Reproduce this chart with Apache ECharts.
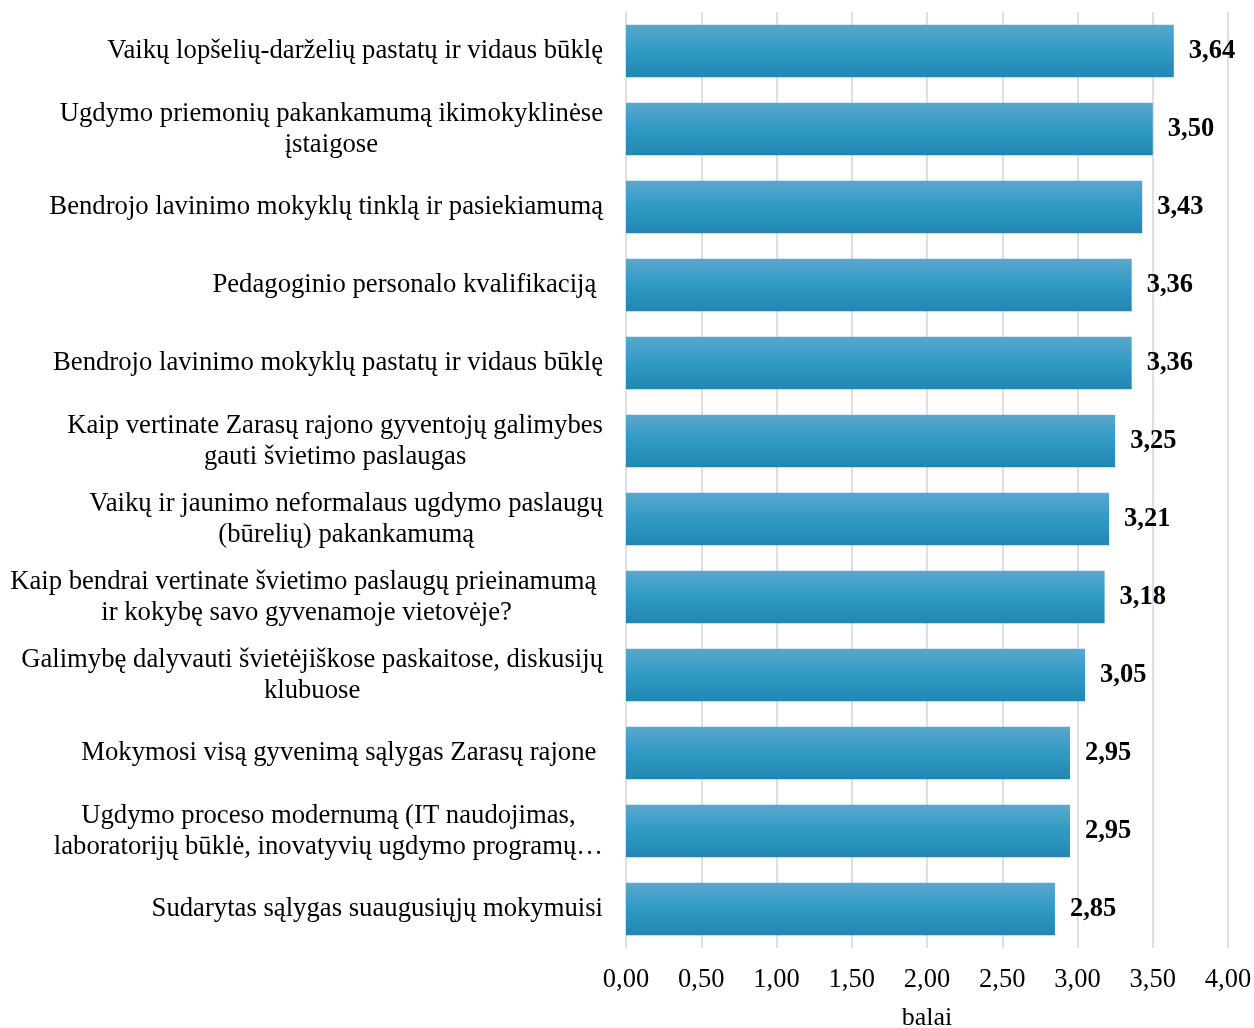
<!DOCTYPE html>
<html>
<head>
<meta charset="utf-8">
<script src="https://cdn.jsdelivr.net/npm/echarts@6/dist/echarts.min.js"></script>
<style>html,body{margin:0;padding:0;background:#fff;}#c{width:1254px;height:1028px;}</style>
</head>
<body>
<div id="c"></div>
<script>
const categories = [
  "Vaikų lopšelių-darželių pastatų ir vidaus būklę",
  "Ugdymo priemonių pakankamumą ikimokyklinėse\nįstaigose",
  "Bendrojo lavinimo mokyklų tinklą ir pasiekiamumą",
  "Pedagoginio personalo kvalifikaciją ",
  "Bendrojo lavinimo mokyklų pastatų ir vidaus būklę",
  "Kaip vertinate Zarasų rajono gyventojų galimybes\ngauti švietimo paslaugas",
  "Vaikų ir jaunimo neformalaus ugdymo paslaugų\n(būrelių) pakankamumą",
  "Kaip bendrai vertinate švietimo paslaugų prieinamumą \nir kokybę savo gyvenamoje vietovėje?",
  "Galimybę dalyvauti šviet\u0117ji\u0161kose paskaitose, diskusijų\nklubuose",
  "Mokymosi visą gyvenimą sąlygas Zarasų rajone ",
  "Ugdymo proceso modernumą (IT naudojimas,\nlaboratorijų būklė, inovatyvių ugdymo programų…",
  "Sudarytas sąlygas suaugusiųjų mokymuisi"
];
const values = [3.64, 3.50, 3.43, 3.36, 3.36, 3.25, 3.21, 3.18, 3.05, 2.95, 2.95, 2.85];
const axisName = "balai";

const fmt = v => Number(v).toFixed(2).replace('.', ',');
const serif = '"Liberation Serif", "Times New Roman", serif';

const chart = echarts.init(document.getElementById('c'));
chart.setOption({
  animation: false,
  grid: { left: 626, right: 26, top: 12, bottom: 80, containLabel: false, outerBoundsMode: 'none' },
  xAxis: {
    type: 'value', min: 0, max: 4, interval: 0.5,
    name: axisName, nameLocation: 'middle', nameGap: 57,
    nameTextStyle: { fontFamily: serif, fontSize: 26, color: '#000' },
    axisLine: { show: false }, axisTick: { show: false },
    axisLabel: { formatter: fmt, fontFamily: serif, fontSize: 26.5, color: '#000', margin: 19 },
    splitLine: { show: true, lineStyle: { color: '#dedee6', width: 2 } }
  },
  yAxis: {
    type: 'category', inverse: true, data: categories,
    axisLine: { show: true, lineStyle: { color: '#dedee6', width: 2 } },
    axisTick: { show: false },
    axisLabel: {
      margin: 23, fontFamily: serif, fontSize: 26.7, color: '#000', lineHeight: 31,
      formatter: v => v.split('\n').map(l => '{c|' + l + '}').join('\n'),
      rich: { c: { align: 'center', fontFamily: serif, fontSize: 26.7, color: '#000', lineHeight: 31 } }
    }
  },
  series: [{
    type: 'bar', data: values, barCategoryGap: '33%',
    itemStyle: {
      color: new echarts.graphic.LinearGradient(0, 0, 0, 1, [
        { offset: 0, color: '#5aa7cc' },
        { offset: 0.5, color: '#2f9ac4' },
        { offset: 1, color: '#2286b2' }
      ])
    },
    label: {
      show: true, position: 'right', distance: 15, formatter: p => fmt(p.value),
      fontFamily: serif, fontSize: 26.5, fontWeight: 'bold', color: '#000'
    }
  }]
});
</script>
</body>
</html>
